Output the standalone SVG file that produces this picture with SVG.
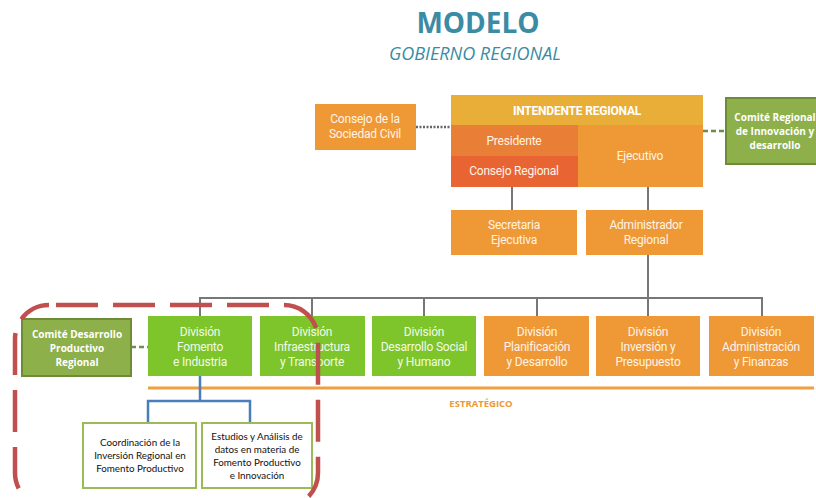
<svg xmlns="http://www.w3.org/2000/svg" width="816" height="498" viewBox="0 0 816 498">
<style>
.title{font-family:"Open Sans","Liberation Sans",sans-serif;fill:#3A8BA3;text-anchor:middle}
.bt{font-family:Roboto,"Liberation Sans",sans-serif;font-size:12px;fill:#FFF4E6;text-anchor:middle;letter-spacing:-0.2px}
.gt{font-family:Roboto,"Liberation Sans",sans-serif;font-size:12px;fill:#F2FBE6;text-anchor:middle;letter-spacing:-0.2px}
.ct{font-family:"Open Sans","Liberation Sans",sans-serif;font-size:10px;font-weight:bold;fill:#FFFFFF;text-anchor:middle}
.st{font-family:Lato,"Liberation Sans",sans-serif;font-size:9.8px;fill:#111;text-anchor:middle}
.org{fill:#EE9836}
.grn{fill:#7DC52B}
.com{fill:#8DB04A;stroke:#6E8C38;stroke-width:2}
.sub{fill:#FFFFFF;stroke:#9BBB59;stroke-width:2}
.ln{stroke:#777;stroke-width:2;fill:none}
</style>
<rect width="816" height="498" fill="#FFFFFF"/>
<text class="title" x="478" y="33" font-size="28" font-weight="bold">MODELO</text>
<text class="title" x="475" y="60" font-size="18" font-style="italic">GOBIERNO REGIONAL</text>

<g id="connectors">
<line x1="416" y1="127" x2="451" y2="127" stroke="#666" stroke-width="2.5" stroke-dasharray="2 1.5"/>
<line x1="703" y1="131" x2="726" y2="131" stroke="#6E8C48" stroke-width="2.5" stroke-dasharray="5 3"/>
<line class="ln" x1="512" y1="187" x2="512" y2="210"/>
<line class="ln" x1="648" y1="187" x2="648" y2="210"/>
<line class="ln" x1="648" y1="255" x2="648" y2="298"/>
<line class="ln" x1="199" y1="298" x2="763" y2="298"/>
<line class="ln" x1="200" y1="298" x2="200" y2="316"/>
<line class="ln" x1="312" y1="298" x2="312" y2="316"/>
<line class="ln" x1="424" y1="298" x2="424" y2="316"/>
<line class="ln" x1="537" y1="298" x2="537" y2="316"/>
<line class="ln" x1="648" y1="298" x2="648" y2="316"/>
<line class="ln" x1="762" y1="298" x2="762" y2="316"/>
<line x1="131" y1="347" x2="148" y2="347" stroke="#6F8F4F" stroke-width="2.5" stroke-dasharray="5 3"/>
<line x1="148" y1="388" x2="814" y2="388" stroke="#F0A040" stroke-width="3"/>
<path d="M200 376 V401 M148 423 V401 H250 V423" stroke="#4A7EBB" stroke-width="2.5" fill="none"/>
</g>

<g id="consejo-sociedad-civil">
<rect class="org" x="315" y="104" width="101" height="46"/>
<text class="bt" x="365" y="123">Consejo de la</text>
<text class="bt" x="365" y="138">Sociedad Civil</text>
</g>

<g id="intendente">
<rect x="451" y="95" width="252" height="30" fill="#E9AE38"/>
<text class="bt" x="577" y="115" font-weight="bold" font-size="11.5" style="fill:#fff">INTENDENTE REGIONAL</text>
</g>
<g id="presidente">
<rect x="451" y="125" width="127" height="31" fill="#E97E36"/>
<text class="bt" x="514" y="145">Presidente</text>
</g>
<g id="consejo-regional">
<rect x="451" y="156" width="127" height="31" fill="#E86433"/>
<text class="bt" x="514" y="175">Consejo Regional</text>
</g>
<g id="ejecutivo">
<rect class="org" x="578" y="125" width="125" height="62"/>
<text class="bt" x="640" y="160">Ejecutivo</text>
</g>

<g id="comite-regional-innovacion">
<rect class="com" x="726" y="98" width="100" height="66"/>
<text class="ct" x="775" y="121">Comité  Regional</text>
<text class="ct" x="775" y="135">de Innovación y</text>
<text class="ct" x="775" y="149">desarrollo</text>
</g>

<g id="secretaria-ejecutiva">
<rect class="org" x="451" y="210" width="126" height="45"/>
<text class="bt" x="514" y="229">Secretaria</text>
<text class="bt" x="514" y="244">Ejecutiva</text>
</g>
<g id="administrador-regional">
<rect class="org" x="586" y="210" width="117" height="45"/>
<text class="bt" x="646" y="229">Administrador</text>
<text class="bt" x="646" y="244">Regional</text>
</g>

<g id="comite-desarrollo-productivo">
<rect class="com" x="22" y="319" width="109" height="57"/>
<text class="ct" x="77" y="338">Comité  Desarrollo</text>
<text class="ct" x="77" y="352">Productivo</text>
<text class="ct" x="77" y="366">Regional</text>
</g>

<g id="div-fomento">
<rect class="grn" x="148" y="316" width="104" height="60"/>
<text class="gt" x="200" y="336">División</text>
<text class="gt" x="200" y="351">Fomento</text>
<text class="gt" x="200" y="366">e Industria</text>
</g>
<g id="div-infraestructura">
<rect class="grn" x="260" y="316" width="105" height="60"/>
<text class="gt" x="312" y="336">División</text>
<text class="gt" x="312" y="351">Infraestructura</text>
<text class="gt" x="312" y="366">y Transporte</text>
</g>
<g id="div-desarrollo-social">
<rect class="grn" x="372" y="316" width="104" height="60"/>
<text class="gt" x="424" y="336">División</text>
<text class="gt" x="424" y="351">Desarrollo Social</text>
<text class="gt" x="424" y="366">y Humano</text>
</g>
<g id="div-planificacion">
<rect class="org" x="484" y="316" width="105" height="60"/>
<text class="bt" x="537" y="336">División</text>
<text class="bt" x="537" y="351">Planificación</text>
<text class="bt" x="537" y="366">y Desarrollo</text>
</g>
<g id="div-inversion">
<rect class="org" x="596" y="316" width="104" height="60"/>
<text class="bt" x="648" y="336">División</text>
<text class="bt" x="648" y="351">Inversión y</text>
<text class="bt" x="648" y="366">Presupuesto</text>
</g>
<g id="div-administracion">
<rect class="org" x="709" y="316" width="105" height="60"/>
<text class="bt" x="761" y="336">División</text>
<text class="bt" x="761" y="351">Administración</text>
<text class="bt" x="761" y="366">y Finanzas</text>
</g>

<text x="481" y="407" font-family="'Open Sans','Liberation Sans',sans-serif" font-size="9.5" font-weight="bold" fill="#EE9836" text-anchor="middle">ESTRATÉGICO</text>

<g id="coordinacion">
<rect class="sub" x="83" y="423" width="113" height="65"/>
<text class="st" x="140" y="446">Coordinación de la</text>
<text class="st" x="140" y="459">Inversión Regional en</text>
<text class="st" x="140" y="472">Fomento Productivo</text>
</g>
<g id="estudios">
<rect class="sub" x="202" y="423" width="110" height="65"/>
<text class="st" x="257" y="440">Estudios y Análisis de</text>
<text class="st" x="257" y="453">datos en materia de</text>
<text class="st" x="257" y="466">Fomento Productivo</text>
<text class="st" x="257" y="479">e Innovación</text>
</g>

<rect x="15" y="305" width="303" height="202" rx="34" fill="none" stroke="#C0504D" stroke-width="4.5" stroke-dasharray="42 15" stroke-dashoffset="50"/>
</svg>
